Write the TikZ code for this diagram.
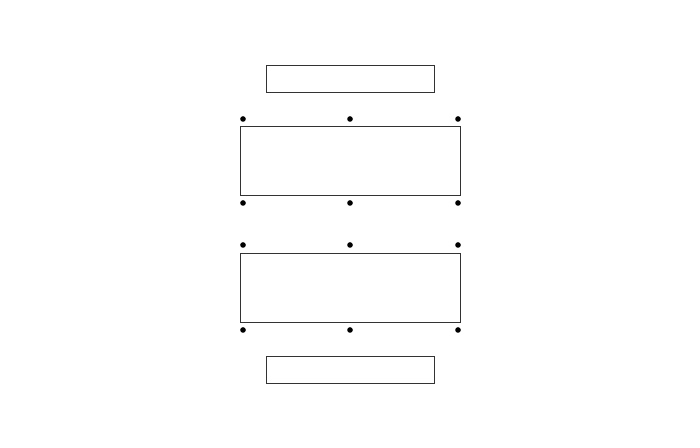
\documentclass[tikz,border=0pt]{standalone}
\begin{document}
\begin{tikzpicture}[x=0.02cm,y=-0.02cm,
  boxshape/.style={draw=black!80,line width=0.6pt,inner sep=0pt,anchor=north west},
  dotshape/.style={circle,fill=black,inner sep=0pt,minimum size=3.2pt}]
\useasboundingbox (0,0) rectangle (700,448);
\node[boxshape,minimum width=168*0.02cm,minimum height=27*0.02cm] (topbox) at (266,65) {};
\node[boxshape,minimum width=220*0.02cm,minimum height=69*0.02cm] (boxA) at (240,126) {};
\node[boxshape,minimum width=220*0.02cm,minimum height=69*0.02cm] (boxB) at (240,253) {};
\node[boxshape,minimum width=168*0.02cm,minimum height=27*0.02cm] (botbox) at (266,356) {};
\foreach \x/\n in {243/l,350/m,458/r}{
  \node[dotshape] (a\n1) at (\x,119) {};
  \node[dotshape] (a\n2) at (\x,203) {};
  \node[dotshape] (b\n1) at (\x,245) {};
  \node[dotshape] (b\n2) at (\x,330) {};
}
\end{tikzpicture}
\end{document}
